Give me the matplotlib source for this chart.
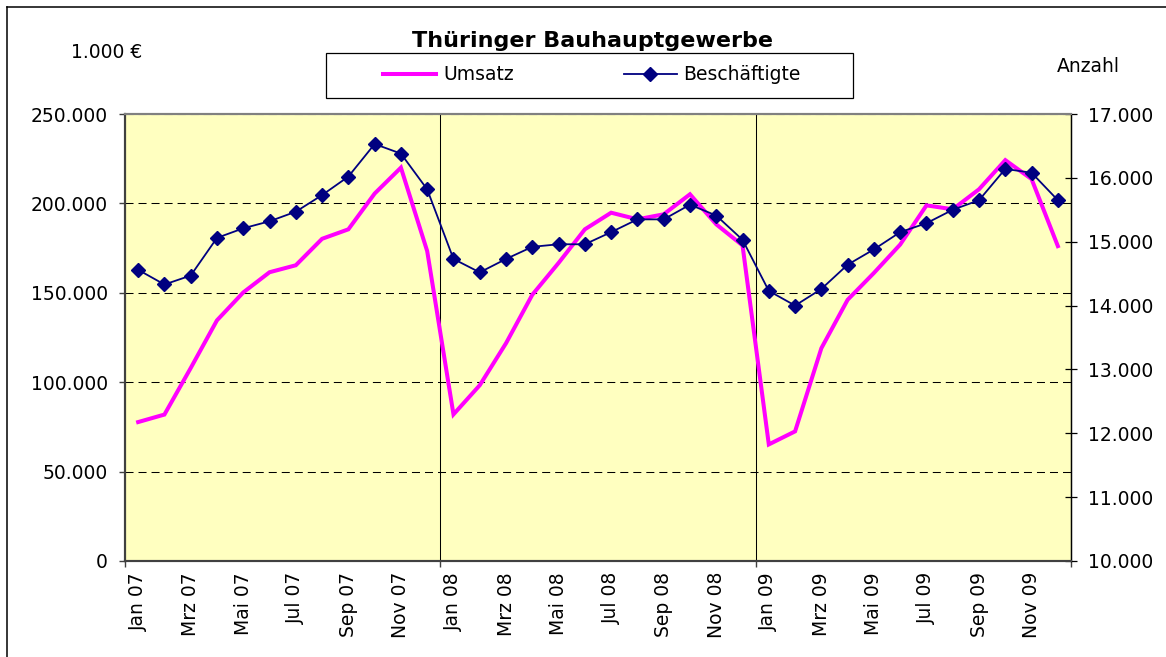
import matplotlib
matplotlib.use('Agg')
import matplotlib.pyplot as plt
from matplotlib.lines import Line2D
from matplotlib.patches import Rectangle

# ---------------- data ----------------
months = ['Jan', 'Feb', 'Mrz', 'Apr', 'Mai', 'Jun', 'Jul', 'Aug', 'Sep', 'Okt', 'Nov', 'Dez']
years = ['07', '08', '09']
categories = [f'{m} {y}' for y in years for m in months]

# Umsatz in 1.000 EUR (left axis)
umsatz = [77700, 81900, 107900, 134600, 150200, 161500, 165400, 180200, 185500, 205500, 220000, 173300,
          82000, 98300, 121800, 148900, 166700, 185500, 194800, 191100, 193900, 205100, 188300, 176500,
          65200, 72500, 119000, 146100, 161100, 177000, 198900, 196700, 207900, 224200, 213600, 176100]

# Beschaeftigte (right axis)
beschaeftigte = [14560, 14330, 14470, 15060, 15210, 15320, 15470, 15730, 16020, 16530, 16380, 15820,
                 14730, 14520, 14730, 14920, 14960, 14960, 15150, 15350, 15350, 15580, 15410, 15030,
                 14230, 14000, 14260, 14640, 14880, 15150, 15290, 15500, 15650, 16140, 16080, 15650]

left_ticks = [0, 50000, 100000, 150000, 200000, 250000]
right_ticks = [10000, 11000, 12000, 13000, 14000, 15000, 16000, 17000]
year_boundaries = [-0.5, 11.5, 23.5, 35.5]

title = 'Thüringer Bauhauptgewerbe'
label_left = '1.000 €'
label_right = 'Anzahl'
series_names = ['Umsatz', 'Beschäftigte']


def fmt(v):
    return f'{v:,}'.replace(',', '.')


# ---------------- figure ----------------
plt.rcParams['font.family'] = ['DejaVu Sans']
W, H = 1166, 657
fig = plt.figure(figsize=(W / 100, H / 100), dpi=100)
fig.patch.set_facecolor('white')

L, R, T, B = 125, 1071, 114, 561
ax = fig.add_axes([L / W, 1 - B / H, (R - L) / W, (B - T) / H])
ax.set_facecolor('#FFFFC0')
ax2 = ax.twinx()
ax2.patch.set_visible(False)

x = list(range(len(categories)))
ln1, = ax.plot(x, umsatz, color='#FF00FF', lw=2.9, solid_joinstyle='miter', zorder=3,
               label=series_names[0])
ln2, = ax2.plot(x, beschaeftigte, color='#000080', lw=1.3, marker='D', ms=7.4,
                markerfacecolor='#000080', markeredgecolor='#000080', zorder=3,
                label=series_names[1])

ax.set_xlim(-0.5, len(categories) - 0.5)
ax.set_ylim(left_ticks[0], left_ticks[-1])
ax2.set_ylim(right_ticks[0], right_ticks[-1])

# y ticks
ax.set_yticks(left_ticks)
ax.set_yticklabels([fmt(v) for v in left_ticks])
ax2.set_yticks(right_ticks)
ax2.set_yticklabels([fmt(v) for v in right_ticks])
ax.tick_params(axis='y', direction='out', length=4.3, width=1.0, color='#404040',
               labelsize=13.5, pad=8)
ax2.tick_params(axis='y', direction='inout', length=8.6, width=0.9, color='black',
                labelsize=13.5, pad=8)

# x ticks: major at year boundaries (ticks + vertical lines), minor for labels
ax.set_xticks(year_boundaries)
ax.set_xticklabels([])
lab_pos = x[::2]
ax.set_xticks(lab_pos, minor=True)
ax.set_xticklabels([categories[i] for i in lab_pos], minor=True, rotation=90,
                   fontsize=13.5, va='top', ha='center')
ax.tick_params(axis='x', which='major', direction='out', length=4.3, width=1.0, color='#404040')
ax.tick_params(axis='x', which='minor', length=0, pad=8)

# grids
ax.set_axisbelow(True)
ax.yaxis.grid(True, color='black', lw=0.75, linestyle=(0, (7.7, 4.8)))
ax.xaxis.grid(True, which='major', color='black', lw=0.75, linestyle='-')

# spines
for a in (ax, ax2):
    a.spines['left'].set_color('#404040')
    a.spines['left'].set_linewidth(1.5)
    a.spines['bottom'].set_color('#404040')
    a.spines['bottom'].set_linewidth(1.5)
    a.spines['top'].set_color('#808080')
    a.spines['top'].set_linewidth(1.5)
    a.spines['right'].set_color('black')
    a.spines['right'].set_linewidth(0.9)

# texts
fig.text(592 / W, 1 - 41 / H, title, ha='center', va='center', fontsize=16,
         fontweight='bold')
fig.text(107 / W, 1 - 53 / H, label_left, ha='center', va='center', fontsize=13.5)
fig.text(1088 / W, 1 - 66 / H, label_right, ha='center', va='center', fontsize=13.5)

# legend box
fig.add_artist(Rectangle((326 / W, 1 - 98 / H), (853 - 326) / W, 45 / H,
                         transform=fig.transFigure, facecolor='white',
                         edgecolor='black', lw=0.9, zorder=4))
leg = fig.legend(handles=[ln1, ln2], loc='center', bbox_to_anchor=(592 / W, 1 - 75 / H),
                 ncol=2, frameon=False, fontsize=13.5, handlelength=2.83,
                 handletextpad=0.35, columnspacing=5.87, numpoints=1)
leg.set_zorder(5)

# outer chart frame (left and top edges visible)
fig.add_artist(Line2D([7 / W, 7 / W], [0, 1 - 7 / H], transform=fig.transFigure,
                      color='black', lw=1.1))
fig.add_artist(Line2D([7 / W, 1], [1 - 7 / H, 1 - 7 / H], transform=fig.transFigure,
                      color='black', lw=1.1))

fig.savefig('out.png', dpi=100, facecolor='white')
